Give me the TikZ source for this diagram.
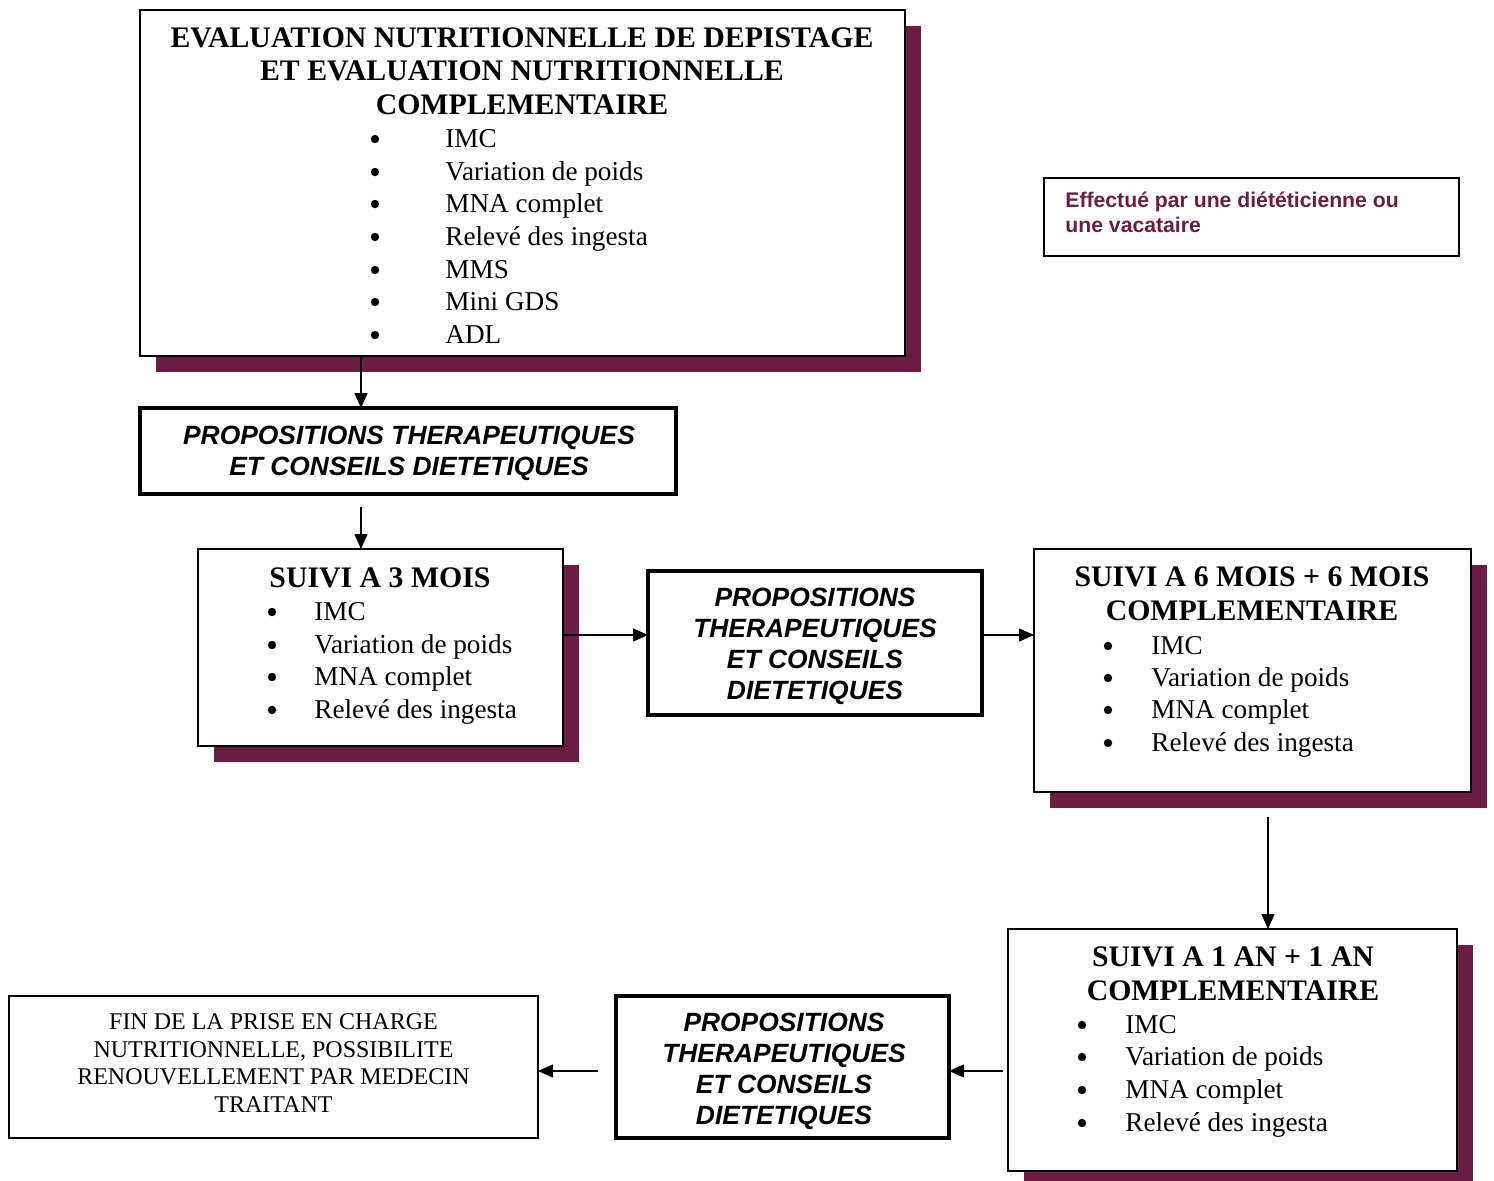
\documentclass[tikz,border=0pt]{standalone}
\usepackage{fontspec}
\setmainfont{Liberation Serif}
\setsansfont{Liberation Sans}
\usetikzlibrary{arrows.meta,shadows}
\definecolor{maroon}{RGB}{108,29,67}
\tikzset{
box/.style={draw, fill=white, line width=1pt, inner sep=0pt, outer sep=0pt},
thickbox/.style={box, line width=1.8pt},
shade/.style={drop shadow={shadow xshift=8pt, shadow yshift=-8pt, fill=maroon, opacity=1}},
arr/.style={-{Triangle[length=7.5pt,width=6.5pt]}, line width=0.7pt},
head/.style={font=\fontsize{14.9}{16.8}\selectfont\bfseries, align=center, inner sep=0pt},
prop/.style={font=\fontsize{13.2}{15.5}\selectfont\sffamily\bfseries\itshape, align=center, inner sep=0pt},
item/.style={font=\fontsize{13.6}{16}\selectfont, anchor=west, inner sep=0pt, text height=8.8pt, text depth=0pt},
dot/.style={circle, fill, minimum size=4.2pt, inner sep=0pt}
}
\begin{document}
\begin{tikzpicture}[x=0.5pt, y=-0.5pt]
\useasboundingbox (0,0) rectangle (1494,1180);

%BOXES
\node[box, shade, minimum width=382.5pt, minimum height=173pt] (eval) at (522.5,183) {};
\node[box, minimum width=207.5pt, minimum height=39pt] (note) at (1251.5,217) {};
\node[thickbox, minimum width=268pt, minimum height=43pt] (prop1) at (408,451) {};
\node[box, shade, minimum width=182.5pt, minimum height=98.5pt] (suivi3) at (380.5,647.5) {};
\node[thickbox, minimum width=167pt, minimum height=72pt] (prop2) at (815,643) {};
\node[box, shade, minimum width=218.5pt, minimum height=121.5pt] (suivi6) at (1252.5,670.5) {};
\node[box, shade, minimum width=224.5pt, minimum height=121pt] (suivi1) at (1232.5,1050) {};
\node[thickbox, minimum width=166.5pt, minimum height=71pt] (prop3) at (782.5,1067) {};
\node[box, minimum width=264.5pt, minimum height=71pt] (fin) at (273.5,1067) {};

%Box texts
\node[prop] (prop1text) at (409,453.5) {PROPOSITIONS THERAPEUTIQUES\\ET CONSEILS DIETETIQUES};
\node[prop] (prop2text) at (815,646.5) {PROPOSITIONS\\THERAPEUTIQUES\\ET CONSEILS\\DIETETIQUES};
\node[prop] (prop3text) at (784,1071.5) {PROPOSITIONS\\THERAPEUTIQUES\\ET CONSEILS\\DIETETIQUES};
\node[inner sep=0pt, align=center, font=\fontsize{12}{13.75}\selectfont] (fintext) at (273.5,1063)
 {FIN DE LA PRISE EN CHARGE\\NUTRITIONNELLE, POSSIBILITE\\RENOUVELLEMENT PAR MEDECIN\\TRAITANT};
\node[anchor=west, inner sep=0pt, text=maroon, align=left,
 font=\fontsize{10.6}{12.5}\selectfont\sffamily\bfseries] (notetext) at (1065,212.5)
 {Effectué par une diététicienne ou\\une vacataire};

%Titles
\node[head] (evaltitle) at (522,71)
 {EVALUATION NUTRITIONNELLE DE DEPISTAGE\\ET EVALUATION NUTRITIONNELLE\\COMPLEMENTAIRE};
\node[head] (suivi3title) at (380,578) {SUIVI A 3 MOIS};
\node[head] (suivi6title) at (1252,593.5) {SUIVI A 6 MOIS + 6 MOIS\\COMPLEMENTAIRE};
\node[head] (suivi1title) at (1233,973.5) {SUIVI A 1 AN + 1 AN\\COMPLEMENTAIRE};

%Bullet lists
\foreach \y/\ytext in {139/IMC,172/Variation de poids,204/MNA complet,237/Relevé des ingesta,270/MMS,302/Mini GDS,335/ADL}
{
\node[dot] (eb\y) at (375,\y) {};
\node[item] (ei\y) at (445,\y) {\ytext};
}
\foreach \y/\ytext in {612/IMC,645/Variation de poids,677/MNA complet,710/Relevé des ingesta}
{
\node[dot] (tb\y) at (272,\y) {};
\node[item] (ti\y) at (314,\y) {\ytext};
}
\foreach \y/\ytext in {646/IMC,678/Variation de poids,710/MNA complet,743/Relevé des ingesta}
{
\node[dot] (sb\y) at (1108,\y) {};
\node[item] (si\y) at (1151,\y) {\ytext};
}
\foreach \y/\ytext in {1025/IMC,1057/Variation de poids,1090/MNA complet,1123/Relevé des ingesta}
{
\node[dot] (ab\y) at (1082,\y) {};
\node[item] (ai\y) at (1125,\y) {\ytext};
}

%Arrows
\coordinate (colA) at (361,0);
\draw[arr] (eval.south -| colA) -- (prop1.north -| colA);
\coordinate (gapA) at (361,507);
\draw[arr] (gapA) -- (gapA |- suivi3.north);
\coordinate (rowB) at (0,635);
\draw[arr] (suivi3.east |- rowB) -- (prop2.west |- rowB);
\draw[arr] (prop2.east |- rowB) -- (suivi6.west |- rowB);
\coordinate (gapB) at (1268,817);
\draw[arr] (gapB) -- (gapB |- suivi1.north);
\coordinate (gapC) at (1003,1071);
\draw[arr] (gapC) -- (gapC -| prop3.east);
\coordinate (gapD) at (598,1071);
\draw[arr] (gapD) -- (gapD -| fin.east);

\end{tikzpicture}
\end{document}
